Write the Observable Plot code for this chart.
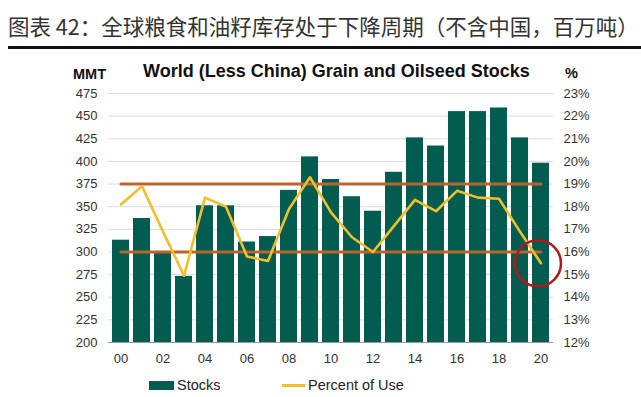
<!DOCTYPE html>
<html><head><meta charset="utf-8">
<script src="https://cdn.jsdelivr.net/npm/d3@7"></script>
<script src="https://cdn.jsdelivr.net/npm/@observablehq/plot@0.6"></script>
<style>
body{margin:0;background:#fff;}
#wrap{position:relative;width:641px;height:397px;overflow:hidden;font-family:"Liberation Sans",Arial,sans-serif;}
#chart{position:absolute;left:0;top:0;}
.abs{position:absolute;white-space:nowrap;}
#head{left:8px;top:15px;font-family:"Noto Sans CJK SC",sans-serif;font-size:21.5px;line-height:22px;color:#333;}
#rule{left:8px;right:0;top:46px;height:2.5px;background:#111;}
#title{left:143px;top:62px;font-size:18px;line-height:19px;font-weight:bold;color:#111;}
#mmt{left:73px;top:67px;font-size:14.5px;line-height:15px;font-weight:bold;color:#111;}
#pct{left:565px;top:66px;font-size:14.5px;line-height:15px;font-weight:bold;color:#111;}
.leg{top:377px;font-size:14.5px;line-height:16px;color:#222;}
</style></head><body>
<div id="wrap">
  <div class="abs" id="head">图表 42：全球粮食和油籽库存处于下降周期（不含中国，百万吨）</div>
  <div class="abs" id="rule"></div>
  <div id="chart"></div>
  <div class="abs" id="title">World (Less China) Grain and Oilseed Stocks</div>
  <div class="abs" id="mmt">MMT</div>
  <div class="abs" id="pct">%</div>
  <div class="abs" style="left:149px;top:381px;width:25px;height:9px;background:#035c50;"></div>
  <div class="abs leg" style="left:177px;">Stocks</div>
  <div class="abs" style="left:282px;top:384px;width:23px;height:3px;background:#f2bf2a;"></div>
  <div class="abs leg" style="left:308px;">Percent of Use</div>
</div>
<script>
const years = ["00","01","02","03","04","05","06","07","08","09","10","11","12","13","14","15","16","17","18","19","20"];
const stocks = [313, 337, 299, 273, 351, 351, 311, 317, 368, 405, 380, 361, 345, 388, 426, 417, 455, 455, 459, 426, 398];
const percentOfUse = [18.1, 18.9, 16.9, 14.95, 18.4, 18.0, 15.8, 15.6, 17.9, 19.3, 17.75, 16.65, 16.0, 17.15, 18.3, 17.8, 18.7, 18.4, 18.35, 16.9, 15.5];
const xTicks = ["00","02","04","06","08","10","12","14","16","18","20"];
const leftTicks = [200,225,250,275,300,325,350,375,400,425,450,475];
const rightTicks = [12,13,14,15,16,17,18,19,20,21,22,23];
const bandLevels = [19, 16];

const toY = p => 200 + (p - 12) * 25;
const rows = years.map((y, i) => ({year: y, stocks: stocks[i], pct: percentOfUse[i]}));
const bandRows = bandLevels.flatMap(b => [
  {year: years[0], v: toY(b), g: b},
  {year: years[years.length - 1], v: toY(b), g: b}
]);

const chart = Plot.plot({
  width: 641, height: 397,
  marginLeft: 108, marginRight: 88, marginTop: 93, marginBottom: 55,
  style: {fontFamily: "'Liberation Sans', Arial, sans-serif", fontSize: "13px", color: "#333", background: "transparent"},
  x: {type: "band", domain: years, paddingInner: 0.2, paddingOuter: 0.1},
  y: {domain: [200, 475]},
  marks: [
    Plot.ruleY(leftTicks.slice(1), {stroke: "#dcdcdc", strokeWidth: 1}),
    Plot.barY(rows, {x: "year", y1: leftTicks[0], y2: "stocks", fill: "#035c50"}),
    Plot.ruleY([leftTicks[0]], {stroke: "#999"}),
    Plot.line(bandRows, {x: "year", y: "v", z: "g", stroke: "#b9652c", strokeWidth: 3}),
    Plot.line(rows, {x: "year", y: d => toY(d.pct), stroke: "#f2bf2a", strokeWidth: 2.6}),
    Plot.dot([rows[rows.length - 1]], {x: "year", y: d => toY(d.pct), r: 23, stroke: "#b3161b", strokeWidth: 2.5, dx: -3}),
    Plot.axisY(leftTicks, {anchor: "left", tickSize: 0, tickPadding: 11, label: null}),
    Plot.axisY(rightTicks.map(toY), {anchor: "right", tickSize: 0, tickPadding: 10, label: null, tickFormat: d => ((d - 200) / 25 + 12) + "%"}),
    Plot.axisX(xTicks, {anchor: "bottom", tickSize: 0, tickPadding: 11, label: null})
  ]
});
document.getElementById("chart").appendChild(chart);
</script>
</body></html>
